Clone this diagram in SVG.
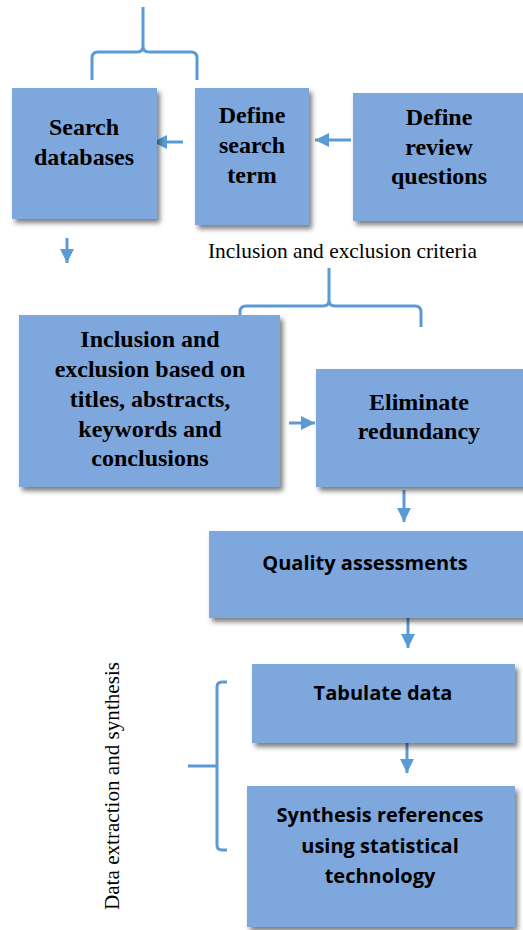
<svg xmlns="http://www.w3.org/2000/svg" width="523" height="930" viewBox="0 0 523 930">
  <style>
    .box { fill: #7EA7DD; filter: url(#shadow); }
    .serif { font-family: "Liberation Serif", "Times New Roman", serif; font-weight: bold; font-size: 24px; fill: #000; text-anchor: middle; }
    .sans { font-family: "Open Sans", "Noto Sans", sans-serif; font-weight: bold; font-size: 20px; fill: #000; text-anchor: middle; }
    .note { font-family: "Liberation Serif", "Times New Roman", serif; font-size: 21px; fill: #000; }
    .link { stroke: #5B9BD5; stroke-width: 3; fill: none; }
    .arrow { stroke: #5B9BD5; stroke-width: 3; fill: none; marker-end: url(#head); }
  </style>
  <defs>
    <filter id="shadow" x="-10%" y="-10%" width="125%" height="130%">
      <feDropShadow dx="3" dy="4" stdDeviation="2.5" flood-color="#000" flood-opacity="0.5"/>
    </filter>
    <marker id="head" markerUnits="userSpaceOnUse" markerWidth="16" markerHeight="16" refX="14" refY="7" orient="auto">
      <path d="M0,0 L14,7 L0,14 z" fill="#5B9BD5"/>
    </marker>
  </defs>

  <rect width="523" height="930" fill="#fff"/>

  <!-- braces and arrows -->
  <g id="connectors">
    <!-- brace above the first two steps -->
    <path class="link" d="M92,80 V58 Q92,52 98,52 H137 Q143,52 143,46 V7 M143,46 Q143,52 149,52 H191 Q197,52 197,58 V80"/>
    <!-- brace above the screening steps -->
    <path class="link" d="M240,327 V312 Q240,306 246,306 H323 Q329,306 329,300 V268 M329,300 Q329,306 335,306 H415 Q421,306 421,312 V327"/>
    <!-- brace beside the extraction steps -->
    <path class="link" d="M227,682 H222 Q217,682 217,687 V845 Q217,850 222,850 H227 M188,766 H217"/>

    <line class="arrow" x1="183" y1="142" x2="153" y2="142"/>
    <line class="arrow" x1="351" y1="140" x2="315" y2="140"/>
    <line class="arrow" x1="67" y1="238" x2="67" y2="263"/>
    <line class="arrow" x1="289" y1="423" x2="315" y2="423"/>
    <line class="arrow" x1="404" y1="490" x2="404" y2="522"/>
    <line class="arrow" x1="408" y1="616" x2="408" y2="648"/>
    <line class="arrow" x1="407" y1="740" x2="407" y2="773"/>
  </g>

  <g id="search-databases">
    <rect class="box" x="12" y="88" width="145" height="131"/>
    <text class="serif" x="84" y="135">Search</text>
    <text class="serif" x="84" y="165">databases</text>
  </g>

  <g id="define-search-term">
    <rect class="box" x="195" y="88" width="114" height="137"/>
    <text class="serif" x="252" y="123">Define</text>
    <text class="serif" x="252" y="153">search</text>
    <text class="serif" x="252" y="183">term</text>
  </g>

  <g id="define-review-questions">
    <rect class="box" x="353" y="93" width="175" height="128"/>
    <text class="serif" x="439" y="125">Define</text>
    <text class="serif" x="439" y="155">review</text>
    <text class="serif" x="439" y="184">questions</text>
  </g>

  <text class="note" x="208" y="258" textLength="269" lengthAdjust="spacingAndGlyphs">Inclusion and exclusion criteria</text>

  <g id="screening">
    <rect class="box" x="19" y="315" width="261" height="172"/>
    <text class="serif" x="150" y="347">Inclusion and</text>
    <text class="serif" x="150" y="377">exclusion based on</text>
    <text class="serif" x="150" y="407">titles, abstracts,</text>
    <text class="serif" x="150" y="437">keywords and</text>
    <text class="serif" x="150" y="466">conclusions</text>
  </g>

  <g id="eliminate-redundancy">
    <rect class="box" x="316" y="369" width="212" height="118"/>
    <text class="serif" x="419" y="410">Eliminate</text>
    <text class="serif" x="419" y="439">redundancy</text>
  </g>

  <g id="quality-assessments">
    <rect class="box" x="209" y="531" width="319" height="87"/>
    <text class="sans" x="365" y="570">Quality assessments</text>
  </g>

  <g id="tabulate-data">
    <rect class="box" x="252" y="664" width="263" height="79"/>
    <text class="sans" x="383" y="700">Tabulate data</text>
  </g>

  <g id="synthesis">
    <rect class="box" x="247" y="786" width="268" height="141"/>
    <text class="sans" x="380" y="822">Synthesis references</text>
    <text class="sans" x="380" y="853">using statistical</text>
    <text class="sans" x="380" y="883">technology</text>
  </g>

  <text class="note" transform="translate(119,786) rotate(-90)" text-anchor="middle" textLength="248" lengthAdjust="spacingAndGlyphs">Data extraction and synthesis</text>
</svg>
